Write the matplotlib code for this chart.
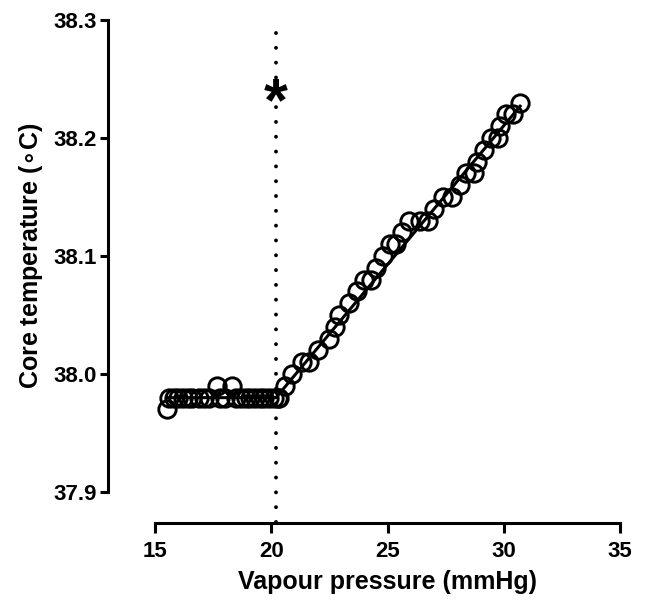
"""
Core temperature vs vapour pressure, with a segmented fit and the breakpoint
marked by a dotted line. Saves out.png.
"""

import matplotlib
matplotlib.use("Agg")
import matplotlib.pyplot as plt

plt.rcParams["font.family"] = ["Liberation Sans", "DejaVu Sans"]
plt.rcParams["font.weight"] = "bold"

# flat phase (below the inflection point)
flat_x = [15.5, 15.6, 15.8, 16.0, 16.2, 16.4, 16.6, 16.9, 17.1, 17.3, 17.65,
          17.8, 18.0, 18.3, 18.5, 18.7, 18.9, 19.1, 19.3, 19.5, 19.7, 19.9,
          20.1, 20.3]
flat_y = [37.97, 37.98, 37.98, 37.98, 37.98, 37.98, 37.98, 37.98, 37.98, 37.98,
          37.99, 37.98, 37.98, 37.99, 37.98, 37.98, 37.98, 37.98, 37.98, 37.98,
          37.98, 37.98, 37.98, 37.98]

# rising phase
rise_x = [20.35, 20.6, 20.9, 21.3, 21.6, 22.0, 22.5, 22.75, 22.9, 23.35, 23.7,
          24.0, 24.3, 24.5, 24.8, 25.1, 25.35, 25.6, 25.9, 26.4, 26.75, 27.0,
          27.4, 27.75, 28.1, 28.35, 28.7, 28.85, 29.15, 29.45, 29.75, 29.85,
          30.1, 30.4, 30.7]
rise_y = [37.98, 37.99, 38.00, 38.01, 38.01, 38.02, 38.03, 38.04, 38.05, 38.06,
          38.07, 38.08, 38.08, 38.09, 38.10, 38.11, 38.11, 38.12, 38.13, 38.13,
          38.13, 38.14, 38.15, 38.15, 38.16, 38.17, 38.17, 38.18, 38.19, 38.20,
          38.20, 38.21, 38.22, 38.22, 38.23]

# segmented regression line
fit_x = [15.5, 20.2, 30.7]
fit_y = [37.98, 37.98, 38.227]

inflection = 20.2
star_y = 38.228

x_ticks = [15, 20, 25, 30, 35]
y_ticks = [37.9, 38.0, 38.1, 38.2, 38.3]

fig = plt.figure(figsize=(6.46, 6.06), dpi=100)
ax = fig.add_axes([0.24, 0.188, 0.72, 0.779])

ax.plot(fit_x, fit_y, color="black", lw=2.2, zorder=2)
ax.plot(flat_x + rise_x, flat_y + rise_y, linestyle="none", marker="o",
        markersize=12.5, markerfacecolor="none", markeredgecolor="black",
        markeredgewidth=2.1, zorder=3)

ax.axvline(inflection, ymin=-0.064, ymax=1, color="black", lw=2.8,
           linestyle=(0, (0.01, 3.8)), dash_capstyle="round", clip_on=False)
ax.text(inflection, star_y, "*", ha="center", va="center", fontsize=44,
        fontweight="bold")

ax.set_xlim(15, 35)
ax.set_ylim(37.9, 38.3)
ax.set_xticks(x_ticks)
ax.set_yticks(y_ticks)
ax.set_yticklabels([f"{v:.1f}" for v in y_ticks])

for side in ("top", "right"):
    ax.spines[side].set_visible(False)
ax.spines["left"].set_position(("outward", 34))
ax.spines["bottom"].set_position(("outward", 22))
for side in ("left", "bottom"):
    ax.spines[side].set_linewidth(2.2)

ax.tick_params(axis="both", direction="out", width=2.2, labelsize=16)
ax.tick_params(axis="y", length=6, pad=2)
ax.tick_params(axis="x", length=7, pad=6)
for lbl in ax.get_xticklabels() + ax.get_yticklabels():
    lbl.set_fontweight("bold")

ax.set_xlabel("Vapour pressure (mmHg)", fontsize=18, fontweight="bold",
              labelpad=6)
ax.set_ylabel(r"Core temperature ($\circ$C)", fontsize=18,
              fontweight="bold", labelpad=6)

fig.savefig("out.png", dpi=100)
